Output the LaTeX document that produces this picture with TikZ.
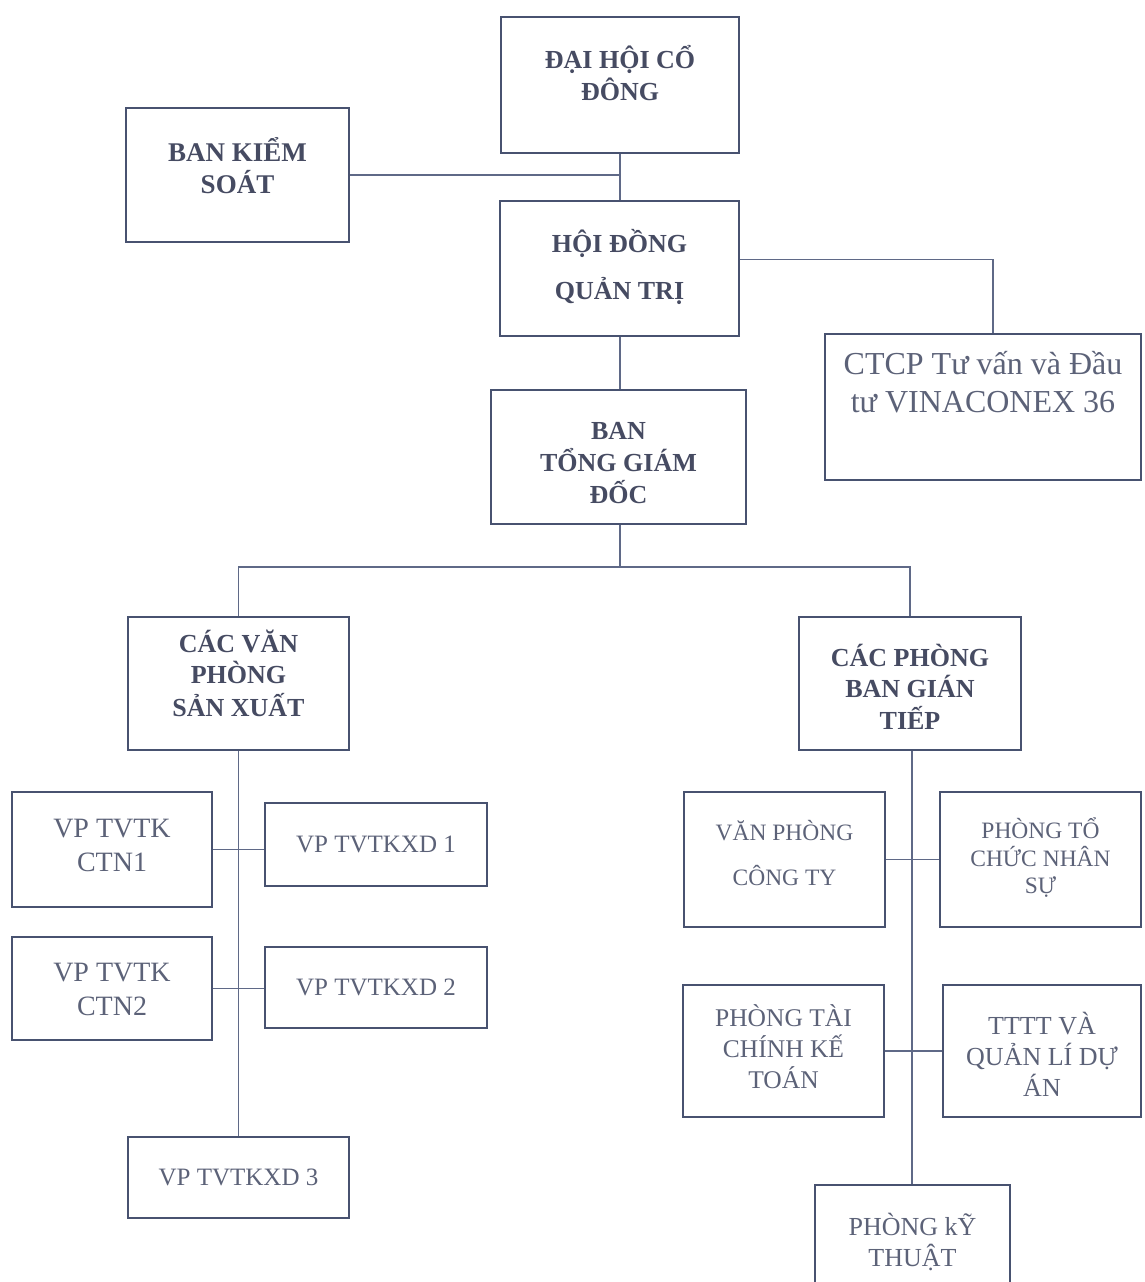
\documentclass[tikz,border=0pt]{standalone}
\usepackage{fontspec}
\setmainfont{Liberation Serif}
\definecolor{boxc}{RGB}{72,82,112}
\definecolor{linec}{RGB}{95,105,135}
\definecolor{txtb}{RGB}{70,75,98}
\definecolor{txtr}{RGB}{92,98,120}
\newcommand{\liftx}[2]{\raisebox{#1}[\height][\depth]{\begin{tabular}{@{}c@{}}#2\end{tabular}}}
\tikzset{
  box/.style={draw=boxc, line width=2pt, inner sep=0pt, align=center},
  sz/.style 2 args={minimum width=#1pt, minimum height=#2pt},
  hb/.style={box, text=txtb, font=\bfseries\fontsize{26}{30}\selectfont},
  rb/.style={box, text=txtr, font=\fontsize{25}{30}\selectfont},
  conn/.style={draw=linec, line width=1.6pt},
}
\begin{document}
\begin{tikzpicture}[x=1pt,y=-1pt]
\useasboundingbox (0,0) rectangle (1144,1282);
\clip (0,0) rectangle (1144,1282);
\fill[white] (0,0) rectangle (1144,1282);
% top levels
\node[hb, sz={238}{136}, font=\bfseries\fontsize{26}{32}\selectfont] (dhcd) at (620,85) {\liftx{7pt}{ĐẠI HỘI CỔ\\ĐÔNG}};
\node[hb, sz={223}{134}, font=\bfseries\fontsize{27}{30}\selectfont] (bks) at (237.5,175) {\liftx{5pt}{BAN KIỂM\\SOÁT}};
\node[hb, sz={239}{135}, font=\bfseries\fontsize{26}{47}\selectfont] (hdqt) at (619.5,268.5) {\liftx{2pt}{HỘI ĐỒNG\\QUẢN TRỊ}};
\node[rb, sz={316}{146}, font=\fontsize{32}{38}\selectfont] (ctcp) at (983,407) {CTCP Tư vấn và Đầu\\tư VINACONEX 36\\\strut};
\node[hb, sz={255}{134}] (btgd) at (618.5,457) {\liftx{-8.5pt}{BAN\\TỔNG GIÁM\\ĐỐC}};
% second level
\node[hb, sz={221}{133}] (vpsx) at (238.5,683.5) {\liftx{6pt}{CÁC VĂN\\PHÒNG\\SẢN XUẤT}};
\node[hb, sz={222}{133}, font=\bfseries\fontsize{26}{29}\selectfont] (pbgt) at (910,683.5) {\liftx{-8pt}{CÁC PHÒNG\\BAN GIÁN\\TIẾP}};
% left group
\node[rb, sz={200}{115}, font=\fontsize{28}{34}\selectfont] (ctn1) at (112,849.5) {\liftx{2pt}{VP TVTK\\CTN1}};
\node[rb, sz={222}{83}] (xd1) at (376,844.5) {VP TVTKXD 1};
\node[rb, sz={200}{103}, font=\fontsize{28}{34}\selectfont] (ctn2) at (112,988.5) {\liftx{-3pt}{VP TVTK\\CTN2}};
\node[rb, sz={222}{81}] (xd2) at (376,987.5) {VP TVTKXD 2};
\node[rb, sz={221}{81}] (xd3) at (238.5,1177.5) {VP TVTKXD 3};
% right group
\node[rb, sz={201}{135}, font=\fontsize{23.5}{45}\selectfont] (vpct) at (784.5,859.5) {\liftx{6pt}{VĂN PHÒNG\\CÔNG TY}};
\node[rb, sz={201}{135}, font=\fontsize{23.5}{27}\selectfont] (tcns) at (1040.5,859.5) {\liftx{0pt}{PHÒNG TỔ\\CHỨC NHÂN\\SỰ}};
\node[rb, sz={201}{132}, font=\fontsize{25.5}{29}\selectfont] (tckt) at (783.5,1051) {\liftx{0pt}{PHÒNG TÀI\\CHÍNH KẾ\\TOÁN}};
\node[rb, sz={198}{132}, font=\fontsize{26}{29.5}\selectfont] (tttt) at (1042,1051) {\liftx{-8pt}{TTTT VÀ\\QUẢN LÍ DỰ\\ÁN}};
\node[rb, sz={195}{105}, font=\fontsize{26}{30}\selectfont] (pkt) at (912.5,1237.5) {\liftx{-7pt}{PHÒNG kỸ\\THUẬT}};
% connectors
\coordinate (bus) at (620,567);
\draw[conn] (dhcd.south) -- (dhcd.south |- hdqt.north);
\draw[conn] (bks.east) -- (bks.east -| dhcd.south);
\draw[conn] ([yshift=9pt]hdqt.east) -| ([xshift=10pt]ctcp.north);
\draw[conn] (dhcd.south |- hdqt.south) -- (dhcd.south |- btgd.north);
\draw[conn] (dhcd.south |- btgd.south) -- (bus);
\draw[conn] (vpsx.north) |- (bus) -| (pbgt.north);
\draw[conn] (vpsx.south) -- (xd3.north);
\draw[conn] (ctn1.east) -- (ctn1.east -| xd1.west);
\draw[conn] (ctn2.east) -- (ctn2.east -| xd2.west);
\draw[conn] ([xshift=2pt]pbgt.south) -- ([xshift=2pt]pbgt.south |- pkt.north);
\draw[conn] (vpct.east) -- (tcns.west);
\draw[conn] (tckt.east) -- (tttt.west);
\end{tikzpicture}
\end{document}
